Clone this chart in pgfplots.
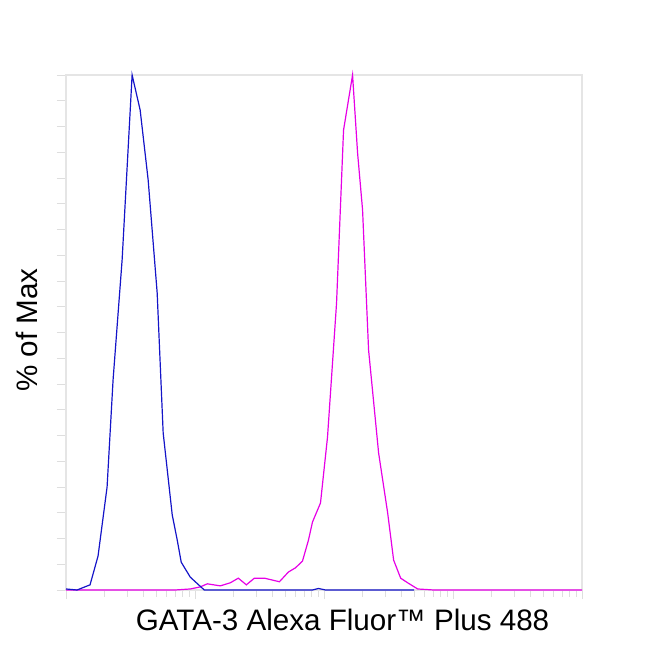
\documentclass[border=0pt]{standalone}
\usepackage{pgfplots}
\pgfplotsset{compat=1.18}
\usepackage{fontspec}
\setmainfont{Liberation Sans}
\definecolor{fblue}{RGB}{20,20,200}
\definecolor{fmag}{RGB}{230,0,230}
\begin{document}
\begin{tikzpicture}
\path[use as bounding box] (-49.5pt,-45pt) rectangle (438pt,442.5pt);
\begin{axis}[
  at={(0,0)}, anchor=south west,
  scale only axis,
  width=387pt, height=386.25pt,
  xmode=log, xmin=1e2, xmax=1e6,
  ymin=0, ymax=100,
  xtick={1e2,1e3,1e4,1e5,1e6},
  ytick={0,5,...,100},
  xticklabels={}, yticklabels={},
  tick pos=left,
  tick align=outside,
  major tick length=7pt, minor tick length=5pt,
  every tick/.style={draw=black!13, line width=0.6pt},
  axis line style={draw=black!10, line width=0.8pt},
  clip=false,
]
\addplot[fmag, line width=0.9pt] coordinates {
(100,0) (702.5,0) (918.7,0.2) (1098.5,0.6) (1245,1.2) (1571,0.8) (1878,1.4) (2167,2.3) (2501,1.0) (2886,2.3) (3451,2.3) (4512,1.6) (5302,3.5) (6003,4.3) (6808,5.6) (7580,9.7) (8142,13.2) (9393,16.9) (10647,29.7) (12510,55.7) (14175,89.3) (16650,100) (18205,84.9) (19907,73.8) (22160,46.6) (26507,26.6) (31138,15.0) (34657,5.8) (39293,2.3) (44508,1.4) (53235,0.2) (70889,0) (1e6,0)
};
\addplot[fblue, line width=0.9pt] coordinates {
(100,0.2) (121.7,0) (153.6,1.0) (177.2,6.6) (208.2,20.0) (231.7,40.8) (272.3,64.1) (325.5,100) (375.7,93.2) (433.5,79.6) (509.0,57.7) (566.6,30.5) (665.9,14.6) (728.2,9.7) (782.0,5.4) (918.7,2.5) (1180,0) (8142,0) (9064,0.3) (10273,0) (50000,0)
};
\end{axis}
\node[anchor=base, font=\fontsize{22.2}{26}\selectfont] at (207.4pt,-30pt) {GATA-3 Alexa Fluor™ Plus 488};
\node[anchor=base, rotate=90, font=\fontsize{22.2}{26}\selectfont] at (-21pt,195pt) {\% of Max};
\end{tikzpicture}
\end{document}
